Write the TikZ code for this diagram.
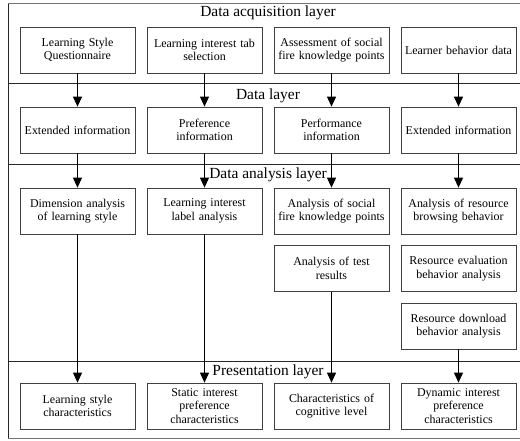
\documentclass[tikz,border=0pt]{standalone}
\usepackage{fontspec}
\setmainfont{Liberation Serif}
\usetikzlibrary{arrows.meta}
\begin{document}
\begin{tikzpicture}[x=1bp,y=-1bp,
  box/.style={draw=black!75,line width=0.7bp,minimum width=115bp,minimum height=46bp,text width=113bp,align=center,font=\fontsize{12}{13.5}\selectfont,inner sep=1bp},
  ttl/.style={font=\fontsize{15.5}{17}\selectfont,inner sep=0pt},
  sep/.style={line width=1bp,black!85},
  arr/.style={line width=0.9bp,-{Triangle[width=9bp,length=10bp]}},
  ln/.style={line width=0.9bp}]
\useasboundingbox (0,0) rectangle (520,441);
\draw[black!55,line width=1bp] (8,4) -- (522,4);
\draw[black!55,line width=1bp] (8,438) -- (522,438);
\draw[black!85,line width=1bp] (8,4) -- (8,438);
\draw[sep] (8,84) -- (522,84);
\draw[sep] (8,165) -- (522,165);
\draw[sep] (8,361) -- (522,361);
% titles
\node[ttl] (t1) at (268,13) {Data acquisition layer};
\node[ttl] (t2) at (268,96) {Data layer};
\node[ttl] (t3) at (268,175) {Data analysis layer};
\node[ttl] (t4) at (268,372) {Presentation layer};
% row 1
\node[box] (a1) at (77.5,50) {Learning Style\\Questionnaire};
\node[box] (a2) at (204.5,50) {Learning interest tab\\selection};
\node[box] (a3) at (331.5,50) {Assessment of social\\fire knowledge points};
\node[box] (a4) at (458.5,50) {Learner behavior data};
% row 2
\node[box] (b1) at (77.5,130) {Extended information};
\node[box] (b2) at (204.5,130) {Preference\\information};
\node[box] (b3) at (331.5,130) {Performance\\information};
\node[box] (b4) at (458.5,130) {Extended information};
% row 3
\node[box] (c1) at (77.5,211) {Dimension analysis\\of learning style};
\node[box] (c2) at (204.5,211) {Learning interest\\label analysis};
\node[box] (c3) at (331.5,211) {Analysis of social\\fire knowledge points};
\node[box] (c4) at (458.5,211) {Analysis of resource\\browsing behavior};
\node[box] (d3) at (331.5,268.5) {Analysis of test\\results};
\node[box] (d4) at (458.5,268.5) {Resource evaluation\\behavior analysis};
\node[box] (e4) at (458.5,326) {Resource download\\behavior analysis};
% row 4
\node[box] (f1) at (77.5,406) {Learning style\\characteristics};
\node[box] (f2) at (204.5,406) {Static interest\\preference\\characteristics};
\node[box] (f3) at (331.5,406) {Characteristics of\\cognitive level};
\node[box] (f4) at (458.5,406) {Dynamic interest\\preference\\characteristics};
% connectors
\foreach \i in {1,2,3,4} {
  \draw[arr] (a\i) -- (b\i);
  \draw[arr] (b\i) -- (c\i);
}
\draw[arr] (c1) -- (f1);
\draw[arr] (c2) -- (f2);
\draw[arr] (d3) -- (f3);
\draw[arr] (e4) -- (f4);
\end{tikzpicture}
\end{document}
